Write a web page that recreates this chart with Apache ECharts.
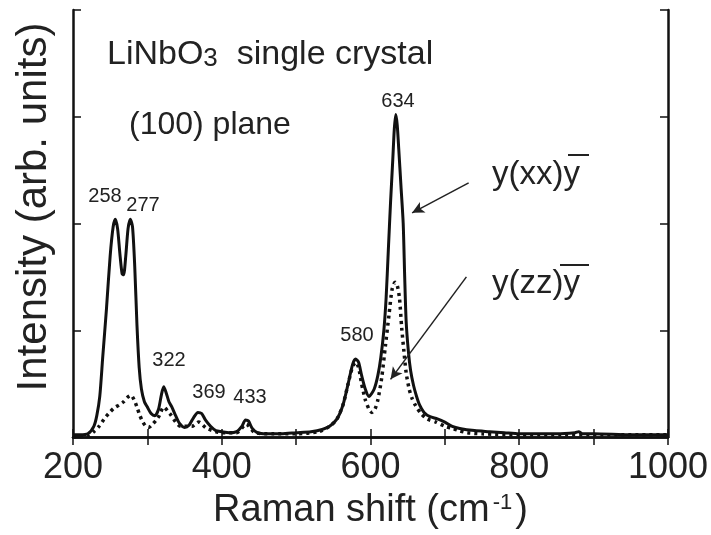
<!DOCTYPE html>
<html>
<head>
<meta charset="utf-8">
<script src="https://cdn.jsdelivr.net/npm/echarts@6/dist/echarts.min.js"></script>
<style>html,body{margin:0;padding:0;background:#fff;}#c{width:711px;height:535px;}</style>
</head>
<body>
<div id="c"></div>
<script>
// Raman shift (cm-1) and intensity (arb. units)
var shiftXX = [200,210,220,228,232,236,240,245,250,254,257,260,263,266,268,271,274,277,280,283,286,289,292,296,300,305,310,315,319,322,325,329,333,338,343,350,356,362,368,373,378,385,392,400,410,420,427,432,436,441,448,460,480,500,520,535,545,555,563,570,576,580,584,588,593,598,605,610,614,618,621,624,627,630,632,634,636,638,641,644,646,648,651,654,658,662,666,672,680,690,700,710,720,740,760,780,800,850,875,880,885,900,950,1000];
var intensityXX = [0.02,0.02,0.03,0.1,0.2,0.38,0.75,1.2,1.7,1.97,2.04,1.95,1.72,1.53,1.52,1.7,1.95,2.04,1.97,1.6,1.05,0.65,0.45,0.33,0.28,0.22,0.2,0.26,0.4,0.47,0.42,0.33,0.28,0.2,0.13,0.09,0.11,0.18,0.23,0.22,0.16,0.1,0.06,0.05,0.04,0.05,0.1,0.16,0.15,0.08,0.04,0.03,0.03,0.04,0.05,0.07,0.1,0.17,0.3,0.5,0.68,0.73,0.7,0.58,0.45,0.38,0.45,0.58,0.75,1.0,1.3,1.75,2.2,2.6,2.88,3.02,2.92,2.7,2.35,2.0,1.5,1.08,0.8,0.62,0.48,0.38,0.3,0.23,0.19,0.17,0.14,0.1,0.08,0.06,0.05,0.04,0.03,0.03,0.04,0.05,0.03,0.03,0.02,0.02];

var shiftZZ = [200,220,228,235,242,248,255,262,268,273,278,282,286,290,294,298,302,307,312,316,322,330,345,360,369,380,400,420,433,445,470,500,530,545,555,563,570,576,580,584,588,593,598,602,606,610,615,620,625,629,633,636,639,642,645,648,652,656,661,668,676,688,700,710,719,730,750,800,1000];
var intensityZZ = [0.0,0.01,0.05,0.1,0.17,0.22,0.27,0.3,0.33,0.37,0.39,0.35,0.28,0.2,0.14,0.1,0.09,0.12,0.16,0.2,0.28,0.22,0.1,0.1,0.14,0.08,0.04,0.04,0.12,0.04,0.03,0.03,0.05,0.1,0.17,0.3,0.5,0.66,0.7,0.65,0.5,0.35,0.26,0.23,0.26,0.35,0.55,0.85,1.15,1.38,1.45,1.42,1.3,1.02,0.8,0.6,0.45,0.36,0.29,0.22,0.17,0.14,0.1,0.08,0.06,0.04,0.03,0.02,0.02];

var xTicks = [200,400,600,800,1000];
var peakLabels = ['258','277','322','369','433','580','634'];
// arrows: [from, to] in data coordinates
var arrowXX = [[732,2.38],[656,2.10]];
var arrowZZ = [[729,1.50],[627,0.54]];

function zip(a,b){return a.map(function(v,i){return [v,b[i]];});}

var font = 'Liberation Sans, Arial, sans-serif';
var chart = echarts.init(document.getElementById('c'));
var axisLine = {show:true, lineStyle:{color:'#111', width:2.5}};
var tick = {show:true, inside:true, length:8, lineStyle:{color:'#111', width:1.5}};

var peakPos = [[105,196],[143,205],[169,360],[209,392],[250,397],[357,335],[398,101]];

var graphics = [];
peakLabels.forEach(function(t,i){
  graphics.push({type:'text', x:peakPos[i][0], y:peakPos[i][1], style:{text:t, fontSize:20, fontFamily:font, fill:'#222', textAlign:'center', textVerticalAlign:'middle'}});
});
graphics.push({type:'text', x:107, y:55, style:{text:'{a|LiNbO}{b|3}{a|  single crystal}', fontFamily:font, fill:'#222', textAlign:'left', textVerticalAlign:'middle', rich:{a:{fontSize:34, fontFamily:font, fill:'#222', verticalAlign:'bottom'}, b:{fontSize:26, fontFamily:font, fill:'#222', verticalAlign:'bottom'}}}});
graphics.push({type:'text', x:129, y:125, style:{text:'(100) plane', fontSize:32, fontFamily:font, fill:'#222', textAlign:'left', textVerticalAlign:'middle'}});
graphics.push({type:'text', x:492, y:175, style:{text:'y(xx)y', fontSize:33, fontFamily:font, fill:'#222', textAlign:'left', textVerticalAlign:'middle'}});
graphics.push({type:'text', x:492, y:284, style:{text:'y(zz)y', fontSize:33, fontFamily:font, fill:'#222', textAlign:'left', textVerticalAlign:'middle'}});
graphics.push({type:'line', shape:{x1:568, y1:155, x2:589, y2:155}, style:{stroke:'#222', lineWidth:2}});
graphics.push({type:'line', shape:{x1:560, y1:265, x2:589, y2:265}, style:{stroke:'#222', lineWidth:2}});
graphics.push({type:'text', x:34, y:207, rotation:Math.PI/2, style:{text:'Intensity (arb. units)', fontSize:42, fontFamily:font, fill:'#222', textAlign:'center', textVerticalAlign:'middle'}});

chart.setOption({
  animation:false,
  backgroundColor:'#fff',
  grid:{left:73, right:41, top:10, bottom:97, containLabel:false},
  xAxis:[{
    type:'value', min:200, max:1000, interval:100,
    axisLine:axisLine, axisTick:tick, splitLine:{show:false},
    axisLabel:{margin:13, fontSize:36, fontFamily:font, color:'#222', formatter:function(v){return xTicks.indexOf(v)>=0 ? String(v) : '';}},
    name:'{a|Raman shift (cm}{b|-1}{a|)}', nameLocation:'middle', nameGap:55,
    nameTextStyle:{fontFamily:font, color:'#222', rich:{a:{fontSize:38, fontFamily:font, color:'#222'}, b:{fontSize:22, fontFamily:font, color:'#222', verticalAlign:'top', padding:[0,3,0,3]}}}
  },{
    type:'value', position:'top', min:200, max:1000, interval:100,
    axisLine:axisLine, axisTick:tick, splitLine:{show:false}, axisLabel:{show:false}
  }],
  yAxis:[{
    type:'value', min:0, max:4, interval:1,
    axisLine:axisLine, axisTick:tick, splitLine:{show:false}, axisLabel:{show:false}
  },{
    type:'value', position:'right', min:0, max:4, interval:1,
    axisLine:axisLine, axisTick:tick, splitLine:{show:false}, axisLabel:{show:false}
  }],
  series:[{
    type:'line', xAxisIndex:0, yAxisIndex:0, data:zip(shiftXX,intensityXX), showSymbol:false, smooth:0.25,
    lineStyle:{color:'#111', width:3}, z:3,
    markLine:{silent:true, symbol:['none','arrow'], symbolSize:[9,12], animation:false,
      lineStyle:{color:'#222', width:1.5, type:'solid'}, label:{show:false},
      data:[[{coord:arrowXX[0]},{coord:arrowXX[1]}],[{coord:arrowZZ[0]},{coord:arrowZZ[1]}]]}
  },{
    type:'line', xAxisIndex:0, yAxisIndex:0, data:zip(shiftZZ,intensityZZ), showSymbol:false, smooth:0.25,
    lineStyle:{color:'#111', width:3.5, type:[3,4], cap:'butt'}, z:2
  }],
  graphic:graphics
});
</script>
</body>
</html>
